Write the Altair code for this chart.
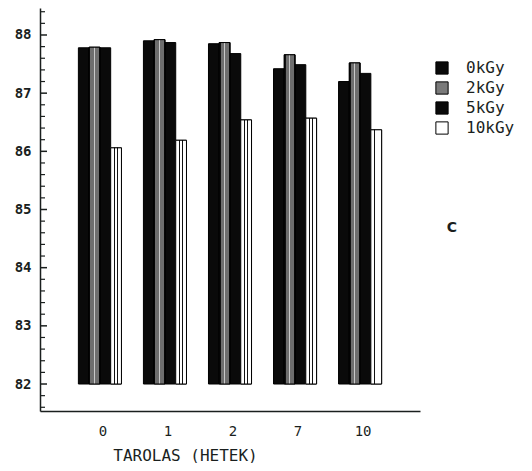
import altair as alt
import pandas as pd

weeks = ["0", "1", "2", "7", "10"]
doses = ["0kGy", "2kGy", "5kGy", "10kGy"]
val_0kgy = [87.78, 87.90, 87.85, 87.42, 87.20]
val_2kgy = [87.79, 87.92, 87.87, 87.66, 87.52]
val_5kgy = [87.78, 87.87, 87.68, 87.49, 87.34]
val_10kgy = [86.06, 86.19, 86.54, 86.57, 86.37]
baseline = 82
major_ticks = [82, 83, 84, 85, 86, 87, 88]
minor_ticks = [81.6, 81.8, 82.2, 82.4, 82.6, 82.8, 83.2, 83.4, 83.6, 83.8,
               84.2, 84.4, 84.6, 84.8, 85.2, 85.4, 85.6, 85.8, 86.2, 86.4,
               86.6, 86.8, 87.2, 87.4, 87.6, 87.8, 88.2, 88.4]

rows = []
for d, vals in zip(doses, [val_0kgy, val_2kgy, val_5kgy, val_10kgy]):
    for w, v in zip(weeks, vals):
        rows.append({"week": w, "dose": d, "value": v})
df = pd.DataFrame(rows)

FONT = "DejaVu Sans Mono"
INK = "#1a1f1e"

yscale = alt.Scale(domain=[81.536, 88.464], nice=False, zero=False)
xscale = alt.Scale(domain=weeks, paddingInner=0.338, paddingOuter=0.59)
oscale = alt.Scale(domain=doses, paddingInner=0, paddingOuter=0)

x_enc = alt.X("week:N", sort=weeks, scale=xscale,
              axis=alt.Axis(title="TAROLAS (HETEK)", labelAngle=0, ticks=False,
                            labelFont=FONT, labelFontSize=14, labelPadding=13,
                            labelColor=INK, labelOffset=3,
                            titleFont=FONT, titleFontSize=16, titleFontWeight="normal",
                            titleColor=INK, titleX=145, titleY=44,
                            titleAlign="center", titleBaseline="middle",
                            domainColor=INK, domainWidth=1.5))
y_enc = alt.Y("value:Q", scale=yscale,
              axis=alt.Axis(title=None, values=major_ticks, format="d", ticks=False,
                            grid=False, labelFont=FONT, labelFontSize=14,
                            labelFontWeight="bold", labelColor=INK, labelPadding=9,
                            domainColor=INK, domainWidth=1.5))
o_enc = alt.XOffset("dose:N", sort=doses, scale=oscale)

base = alt.Chart(df).mark_bar(stroke="black", strokeWidth=1).encode(
    x=x_enc, xOffset=o_enc, y=y_enc, y2=alt.datum(baseline),
    color=alt.Color("dose:N", sort=doses,
                    scale=alt.Scale(domain=doses,
                                    range=["#0a0a0a", "#7a7a7a", "#0a0a0a", "#ffffff"]),
                    legend=alt.Legend(title=None, orient="none", legendX=394, legendY=52,
                                      symbolType="square", symbolSize=150,
                                      symbolStrokeColor="black", symbolStrokeWidth=1,
                                      labelFont=FONT, labelFontSize=16, labelColor=INK,
                                      labelOffset=16, rowPadding=2)),
)

def stops(spec):
    return [alt.GradientStop(color=c, offset=o) for o, c in spec]

grad_2 = alt.LinearGradient(gradient="linear", x1=0, x2=1, y1=0, y2=0, stops=stops([
    (0, "#111"), (0.12, "#111"), (0.12, "#6e6e6e"), (0.44, "#6e6e6e"),
    (0.44, "#c8c8c8"), (0.56, "#c8c8c8"), (0.56, "#6e6e6e"), (0.88, "#6e6e6e"),
    (0.88, "#111"), (1, "#111")]))
grad_10 = alt.LinearGradient(gradient="linear", x1=0, x2=1, y1=0, y2=0, stops=stops([
    (0, "#fff"), (0.3, "#fff"), (0.3, "#111"), (0.38, "#111"), (0.38, "#fff"),
    (0.62, "#fff"), (0.62, "#111"), (0.7, "#111"), (0.7, "#fff"), (1, "#fff")]))

def striped(dose, grad):
    return alt.Chart(df).transform_filter(alt.datum.dose == dose).mark_bar(
        color=grad, stroke="black", strokeWidth=1).encode(
        x=alt.X("week:N", sort=weeks, scale=xscale),
        xOffset=o_enc, y=alt.Y("value:Q", scale=yscale), y2=alt.datum(baseline))

major_df = pd.DataFrame({"v": major_ticks})
minor_df = pd.DataFrame({"v": minor_ticks})
major = alt.Chart(major_df).mark_rule(color=INK, strokeWidth=1.5).encode(
    y=alt.Y("v:Q", scale=yscale), x=alt.value(0), x2=alt.value(7))
minor = alt.Chart(minor_df).mark_rule(color=INK, strokeWidth=1.2).encode(
    y=alt.Y("v:Q", scale=yscale), x=alt.value(0), x2=alt.value(5))

label_c = alt.Chart(pd.DataFrame({"t": ["C"]})).mark_text(
    font="DejaVu Sans", fontSize=14, fontWeight="bold", color=INK).encode(
    text="t:N", x=alt.value(412), y=alt.value(220))

chart = alt.layer(base, striped("2kGy", grad_2), striped("10kGy", grad_10),
                  major, minor, label_c).properties(
    width=380, height=403,
    autosize=alt.AutoSizeParams(type="none"),
    padding={"left": 32, "top": 0, "right": 104, "bottom": 52},
    background="white",
).configure_view(stroke=None)

chart.save("out.html", embed_options={"renderer": "svg", "actions": False})
